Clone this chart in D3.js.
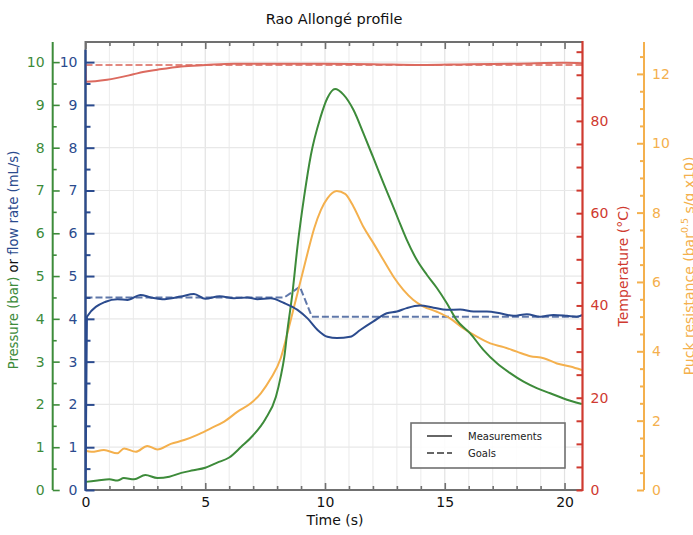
<!DOCTYPE html>
<html>
<head>
<meta charset="utf-8">
<script src="https://cdn.jsdelivr.net/npm/d3@7"></script>
<style>
  body { margin: 0; background: #fff; }
  svg { display: block; font-family: "DejaVu Sans", sans-serif; }
</style>
</head>
<body>
<svg id="chart" width="693" height="535"></svg>
<script>
// Series (time in s)
const pressureT = [0, 0.5, 1.0, 1.33, 1.6, 2.03, 2.5, 3.0, 3.5, 4.0, 4.5, 5.0, 5.5, 6.0, 6.5, 7.0, 7.5, 7.95, 8.15, 8.3, 8.43, 8.64, 8.85, 9.13, 9.41, 9.8, 10.1, 10.42, 10.77, 11.19, 11.6, 12.02, 12.44, 12.79, 13.07, 13.41, 13.83, 14.25, 14.67, 15.08, 15.5, 16.06, 16.62, 17.18, 17.73, 18.29, 18.84, 19.4, 19.96, 20.72];
const pressure = [0.19, 0.22, 0.25, 0.22, 0.28, 0.25, 0.35, 0.28, 0.31, 0.40, 0.46, 0.52, 0.64, 0.76, 1.01, 1.28, 1.65, 2.18, 2.65, 3.11, 3.73, 4.6, 5.69, 6.86, 7.83, 8.69, 9.16, 9.37, 9.24, 8.88, 8.34, 7.76, 7.17, 6.70, 6.31, 5.85, 5.38, 5.03, 4.72, 4.37, 3.97, 3.66, 3.27, 2.96, 2.73, 2.53, 2.38, 2.26, 2.14, 2.01];

const flowT = [0, 0.06, 0.84, 1.33, 1.75, 2.3, 2.72, 3.2, 3.97, 4.53, 5.0, 5.6, 6.2, 6.76, 7.17, 7.73, 8.29, 8.85, 9.27, 9.69, 10.1, 10.5, 11.05, 11.47, 12.02, 12.58, 13.0, 13.41, 13.97, 14.53, 15.08, 15.64, 16.2, 16.76, 17.31, 17.87, 18.43, 18.98, 19.54, 20.1, 20.51, 20.75];
const flow = [0, 4.05, 4.40, 4.46, 4.44, 4.56, 4.50, 4.46, 4.52, 4.58, 4.47, 4.53, 4.48, 4.50, 4.46, 4.48, 4.37, 4.21, 4.01, 3.74, 3.58, 3.55, 3.58, 3.74, 3.94, 4.13, 4.17, 4.25, 4.31, 4.26, 4.21, 4.22, 4.17, 4.17, 4.13, 4.07, 4.11, 4.05, 4.09, 4.07, 4.05, 4.09];
const flowGoalT = [0, 8.3, 8.95, 9.45, 20.75];
const flowGoal = [4.5, 4.5, 4.75, 4.05, 4.05];

const tempT = [0, 0.02, 0.9, 2.0, 2.4, 3.0, 4.0, 5.0, 6.2, 8, 10, 12, 14, 16, 18, 20, 20.75];
const temp = [92.1, 88.5, 88.9, 90.1, 90.6, 91.1, 91.8, 92.1, 92.4, 92.4, 92.4, 92.3, 92.1, 92.3, 92.4, 92.6, 92.5];
const tempGoalT = [0, 20.75];
const tempGoal = [92.1, 92.1];

const resistT = [0, 0.25, 0.77, 1.33, 1.61, 2.1, 2.58, 3.0, 3.56, 4.12, 4.67, 5.23, 5.79, 6.35, 6.9, 7.32, 7.74, 8.15, 8.43, 8.71, 8.99, 9.27, 9.55, 9.83, 10.1, 10.49, 10.84, 11.19, 11.6, 12.02, 12.44, 12.86, 13.27, 13.69, 14.11, 14.67, 15.22, 15.78, 16.34, 16.9, 17.46, 18.01, 18.57, 19.13, 19.68, 20.24, 20.72];
const resist = [1.13, 1.10, 1.15, 1.06, 1.20, 1.10, 1.27, 1.17, 1.33, 1.44, 1.59, 1.78, 1.97, 2.26, 2.50, 2.79, 3.22, 3.80, 4.52, 5.29, 6.06, 6.83, 7.55, 8.08, 8.41, 8.62, 8.54, 8.17, 7.59, 7.12, 6.63, 6.15, 5.77, 5.48, 5.29, 5.14, 4.95, 4.66, 4.42, 4.23, 4.12, 3.99, 3.86, 3.80, 3.65, 3.56, 3.46];

const xTicks = [0, 5, 10, 15, 20];
const pTicks = [0, 1, 2, 3, 4, 5, 6, 7, 8, 9, 10];
const tTicks = [0, 20, 40, 60, 80];
const rTicks = [0, 2, 4, 6, 8, 10, 12];

// Colours
const GREEN = '#3d8b3a', BLUE = '#2b4b8e', RED = '#cf3a30', REDLINE = '#dc6a5f', ORANGE = '#f4b04d', GRAY = '#707070';

const svg = d3.select('#chart');
const plotLeft = 85.5, plotRight = 582.5, plotTop = 42, plotBottom = 490;

const x = d3.scaleLinear().domain([0, 20.75]).range([plotLeft, plotRight]);
const yP = d3.scaleLinear().domain([0, 10.47]).range([plotBottom, plotTop]);
const yT = d3.scaleLinear().domain([0, 97.1]).range([plotBottom, plotTop]);
const yR = d3.scaleLinear().domain([0, 12.92]).range([plotBottom, plotTop]);

const zip = (ts, vs) => ts.map((t, i) => [t, vs[i]]);

// Grid
const grid = svg.append('g');
d3.range(1, 21).forEach(t => {
  grid.append('line')
    .attr('x1', x(t)).attr('x2', x(t)).attr('y1', plotTop).attr('y2', plotBottom)
    .attr('stroke', t % 5 === 0 ? '#e2e2e2' : '#eeeeee').attr('stroke-width', 1.2);
});
d3.range(1, 11).forEach(v => {
  grid.append('line')
    .attr('x1', plotLeft).attr('x2', plotRight).attr('y1', yP(v)).attr('y2', yP(v))
    .attr('stroke', '#e8e8e8').attr('stroke-width', 1.2);
});

// Frame (gray)
svg.append('line').attr('x1', plotLeft).attr('x2', plotRight).attr('y1', plotTop).attr('y2', plotTop)
  .attr('stroke', GRAY).attr('stroke-width', 2);
svg.append('line').attr('x1', plotLeft).attr('x2', plotRight).attr('y1', plotBottom).attr('y2', plotBottom)
  .attr('stroke', GRAY).attr('stroke-width', 2);
svg.append('line').attr('x1', plotLeft).attr('x2', plotLeft).attr('y1', plotTop - 1).attr('y2', plotBottom)
  .attr('stroke', GRAY).attr('stroke-width', 2);

// Clip
svg.append('clipPath').attr('id', 'plot')
  .append('rect').attr('x', plotLeft).attr('y', plotTop).attr('width', plotRight - plotLeft).attr('height', plotBottom - plotTop);

const plot = svg.append('g').attr('clip-path', 'url(#plot)');

function drawLine(data, scale, color, dashed, opacity) {
  const line = d3.line().x(d => x(d[0])).y(d => scale(d[1]))
    .curve(dashed ? d3.curveLinear : d3.curveMonotoneX);
  plot.append('path')
    .attr('d', line(data))
    .attr('fill', 'none')
    .attr('stroke', color)
    .attr('stroke-width', 2)
    .attr('stroke-opacity', opacity || 1)
    .attr('stroke-linejoin', 'round')
    .attr('stroke-dasharray', dashed ? '7,3' : null);
}

drawLine(zip(tempGoalT, tempGoal), yT, REDLINE, true, 0.8);
drawLine(zip(flowGoalT, flowGoal), yP, BLUE, true, 0.75);
drawLine(zip(resistT, resist), yR, ORANGE);
drawLine(zip(pressureT, pressure), yP, GREEN);
drawLine(zip(flowT, flow), yP, BLUE);
drawLine(zip(tempT, temp), yT, REDLINE);

// Axis helper
function styleAxis(g, color, width) {
  g.selectAll('.tick line').attr('stroke', color).attr('stroke-width', width || 1.6);
  g.selectAll('.tick text').attr('fill', color).style('font-size', '14px').style('font-family', '"DejaVu Sans", sans-serif');
  g.select('.domain').remove();
}

// X axis bottom & top
const xMinor = d3.range(0, 21).filter(t => t % 5 !== 0);
let g = svg.append('g').attr('transform', `translate(0,${plotBottom})`)
  .call(d3.axisBottom(x).tickValues(xTicks).tickSizeInner(-7).tickSizeOuter(0).tickPadding(7));
styleAxis(g, GRAY);
g.selectAll('.tick text').attr('fill', '#111');
g = svg.append('g').attr('transform', `translate(0,${plotBottom})`)
  .call(d3.axisBottom(x).tickValues(xMinor).tickSizeInner(-4).tickSizeOuter(0).tickFormat(''));
styleAxis(g, GRAY);
g = svg.append('g').attr('transform', `translate(0,${plotTop})`)
  .call(d3.axisTop(x).tickValues(xTicks).tickSizeInner(-7).tickSizeOuter(0).tickFormat(''));
styleAxis(g, GRAY);
g = svg.append('g').attr('transform', `translate(0,${plotTop})`)
  .call(d3.axisTop(x).tickValues(xMinor).tickSizeInner(-4).tickSizeOuter(0).tickFormat(''));
styleAxis(g, GRAY);

const pMinor = d3.range(0.5, 10.5, 1);

// Green pressure axis
const greenX = 52.7;
g = svg.append('g').attr('transform', `translate(${greenX},0)`)
  .call(d3.axisLeft(yP).tickValues(pTicks).tickSizeInner(-7).tickSizeOuter(0).tickPadding(8));
styleAxis(g, GREEN);
g = svg.append('g').attr('transform', `translate(${greenX},0)`)
  .call(d3.axisLeft(yP).tickValues(pMinor).tickSizeInner(-4).tickSizeOuter(0).tickFormat(''));
styleAxis(g, GREEN);
svg.append('line').attr('x1', greenX).attr('x2', greenX).attr('y1', plotTop).attr('y2', plotBottom)
  .attr('stroke', GREEN).attr('stroke-width', 2);

// Blue flow axis
g = svg.append('g').attr('transform', `translate(${plotLeft},0)`)
  .call(d3.axisLeft(yP).tickValues(pTicks).tickSizeInner(-9).tickSizeOuter(0).tickPadding(8));
styleAxis(g, BLUE, 2);
g = svg.append('g').attr('transform', `translate(${plotLeft},0)`)
  .call(d3.axisLeft(yP).tickValues(pMinor).tickSizeInner(-5).tickSizeOuter(0).tickFormat(''));
styleAxis(g, BLUE, 2);
svg.append('line').attr('x1', plotLeft).attr('x2', plotLeft).attr('y1', yP(10.29)).attr('y2', plotBottom + 1)
  .attr('stroke', BLUE).attr('stroke-width', 2.2);

// Red temperature axis
g = svg.append('g').attr('transform', `translate(${plotRight},0)`)
  .call(d3.axisRight(yT).tickValues(tTicks).tickSizeInner(-6).tickSizeOuter(0).tickPadding(8));
styleAxis(g, RED, 2);
g = svg.append('g').attr('transform', `translate(${plotRight},0)`)
  .call(d3.axisRight(yT).tickValues(d3.range(5, 100, 5).filter(v => v % 20 !== 0)).tickSizeInner(-6).tickSizeOuter(0).tickFormat(''));
styleAxis(g, RED, 2);
svg.append('line').attr('x1', plotRight).attr('x2', plotRight).attr('y1', plotTop - 1).attr('y2', plotBottom + 1)
  .attr('stroke', RED).attr('stroke-width', 2.2);

// Orange resistance axis
const orangeX = 644;
g = svg.append('g').attr('transform', `translate(${orangeX},0)`)
  .call(d3.axisRight(yR).tickValues(rTicks).tickSizeInner(-7).tickSizeOuter(0).tickPadding(8));
styleAxis(g, ORANGE, 2);
g = svg.append('g').attr('transform', `translate(${orangeX},0)`)
  .call(d3.axisRight(yR).tickValues(d3.range(0.5, 12.9, 0.5).filter(v => v % 2 !== 0)).tickSizeInner(-4).tickSizeOuter(0).tickFormat(''));
styleAxis(g, ORANGE, 2);
svg.append('line').attr('x1', orangeX).attr('x2', orangeX).attr('y1', plotTop).attr('y2', plotBottom)
  .attr('stroke', ORANGE).attr('stroke-width', 2);

// Title & labels
svg.append('text').attr('x', 334).attr('y', 24).attr('text-anchor', 'middle')
  .style('font-size', '14.5px').attr('fill', '#111').text('Rao Allongé profile');

svg.append('text').attr('x', 335).attr('y', 525).attr('text-anchor', 'middle')
  .style('font-size', '14px').attr('fill', '#111').text('Time (s)');

const yl = svg.append('text').attr('transform', 'translate(18,260) rotate(-90)')
  .attr('text-anchor', 'middle').style('font-size', '13.2px');
yl.append('tspan').attr('fill', GREEN).text('Pressure (bar)');
yl.append('tspan').attr('fill', '#111').text(' or ');
yl.append('tspan').attr('fill', BLUE).text('flow rate (mL/s)');

svg.append('text').attr('transform', 'translate(628,266) rotate(-90)')
  .attr('text-anchor', 'middle').style('font-size', '14px').attr('fill', RED).text('Temperature (°C)');

// Partly cut off at the right edge, as in the reference
const rl = svg.append('text').attr('transform', 'translate(693.5,266) rotate(-90)')
  .attr('text-anchor', 'middle').style('font-size', '14px').attr('fill', ORANGE);
rl.append('tspan').text('Puck resistance (bar');
rl.append('tspan').attr('dy', -6).style('font-size', '9.5px').text('0.5');
rl.append('tspan').attr('dy', 6).text(' s/g x10)');

// Legend
const lg = svg.append('g').attr('transform', 'translate(411,423)');
lg.append('rect').attr('width', 154).attr('height', 45)
  .attr('fill', '#fff').attr('fill-opacity', 0.85).attr('stroke', GRAY).attr('stroke-width', 1.6);
[['Measurements', null, 13], ['Goals', '7,3', 30]].forEach(([label, dash, yy]) => {
  lg.append('line').attr('x1', 16).attr('x2', 41).attr('y1', yy).attr('y2', yy)
    .attr('stroke', '#666').attr('stroke-width', 2).attr('stroke-dasharray', dash);
  lg.append('text').attr('x', 57).attr('y', yy).attr('dy', '0.35em')
    .style('font-size', '10px').attr('fill', '#222').text(label);
});
</script>
</body>
</html>
